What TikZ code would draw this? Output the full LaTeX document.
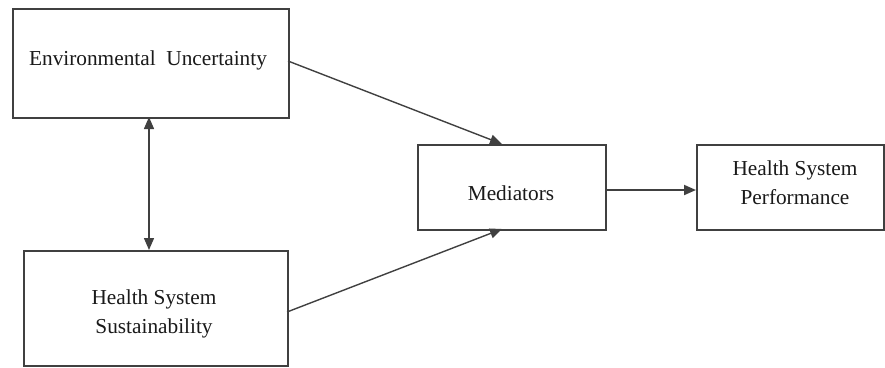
\documentclass[tikz,border=0pt]{standalone}
\usepackage{fontspec}
\setmainfont{Liberation Serif}
\usetikzlibrary{arrows.meta}
\definecolor{linegray}{HTML}{404040}
\definecolor{textgray}{HTML}{1A1A1A}
\begin{document}
\begin{tikzpicture}[x=1pt,y=-1pt,
  boxstyle/.style={draw=linegray, line width=1.6pt, fill=white, inner sep=0pt, anchor=north west},
  labelstyle/.style={text=textgray, font=\fontsize{21.3}{29}\selectfont, align=center},
  tipstyle/.tip={Triangle[length=12pt,width=10pt]},
  arrowstyle/.style={draw=linegray, line width=1.4pt, -tipstyle}]
\useasboundingbox (0,0) rectangle (885,367);
\node[boxstyle, minimum width=276pt, minimum height=109pt] (eu) at (12,8) {};
\node[boxstyle, minimum width=264pt, minimum height=115pt] (hss) at (23,250) {};
\node[boxstyle, minimum width=188pt, minimum height=85pt] (med) at (417,144) {};
\node[boxstyle, minimum width=187pt, minimum height=85pt] (hsp) at (696,144) {};
\node[labelstyle] (eut) at (148,60) {Environmental\ \ Uncertainty};
\node[labelstyle] (hsst) at (154,314) {Health System\\Sustainability};
\node[labelstyle] (medt) at (511,193) {Mediators};
\node[labelstyle] (hspt) at (795,183) {Health System\\Performance};
\coordinate (a1s) at (288,61);
\coordinate (a1e) at (502,144);
\coordinate (a2s) at (287,312);
\coordinate (a2e) at (502,229);
\coordinate (dtop) at (149,117);
\coordinate (dbot) at (149,250);
\coordinate (hs) at (605,190);
\coordinate (he) at (696,190);
\draw[arrowstyle] (a1s) -- (a1e);
\draw[arrowstyle] (a2s) -- (a2e);
\draw[arrowstyle, tipstyle-tipstyle] (dtop) -- (dbot);
\draw[arrowstyle, line width=1.9pt] (hs) -- (he);
\end{tikzpicture}
\end{document}
